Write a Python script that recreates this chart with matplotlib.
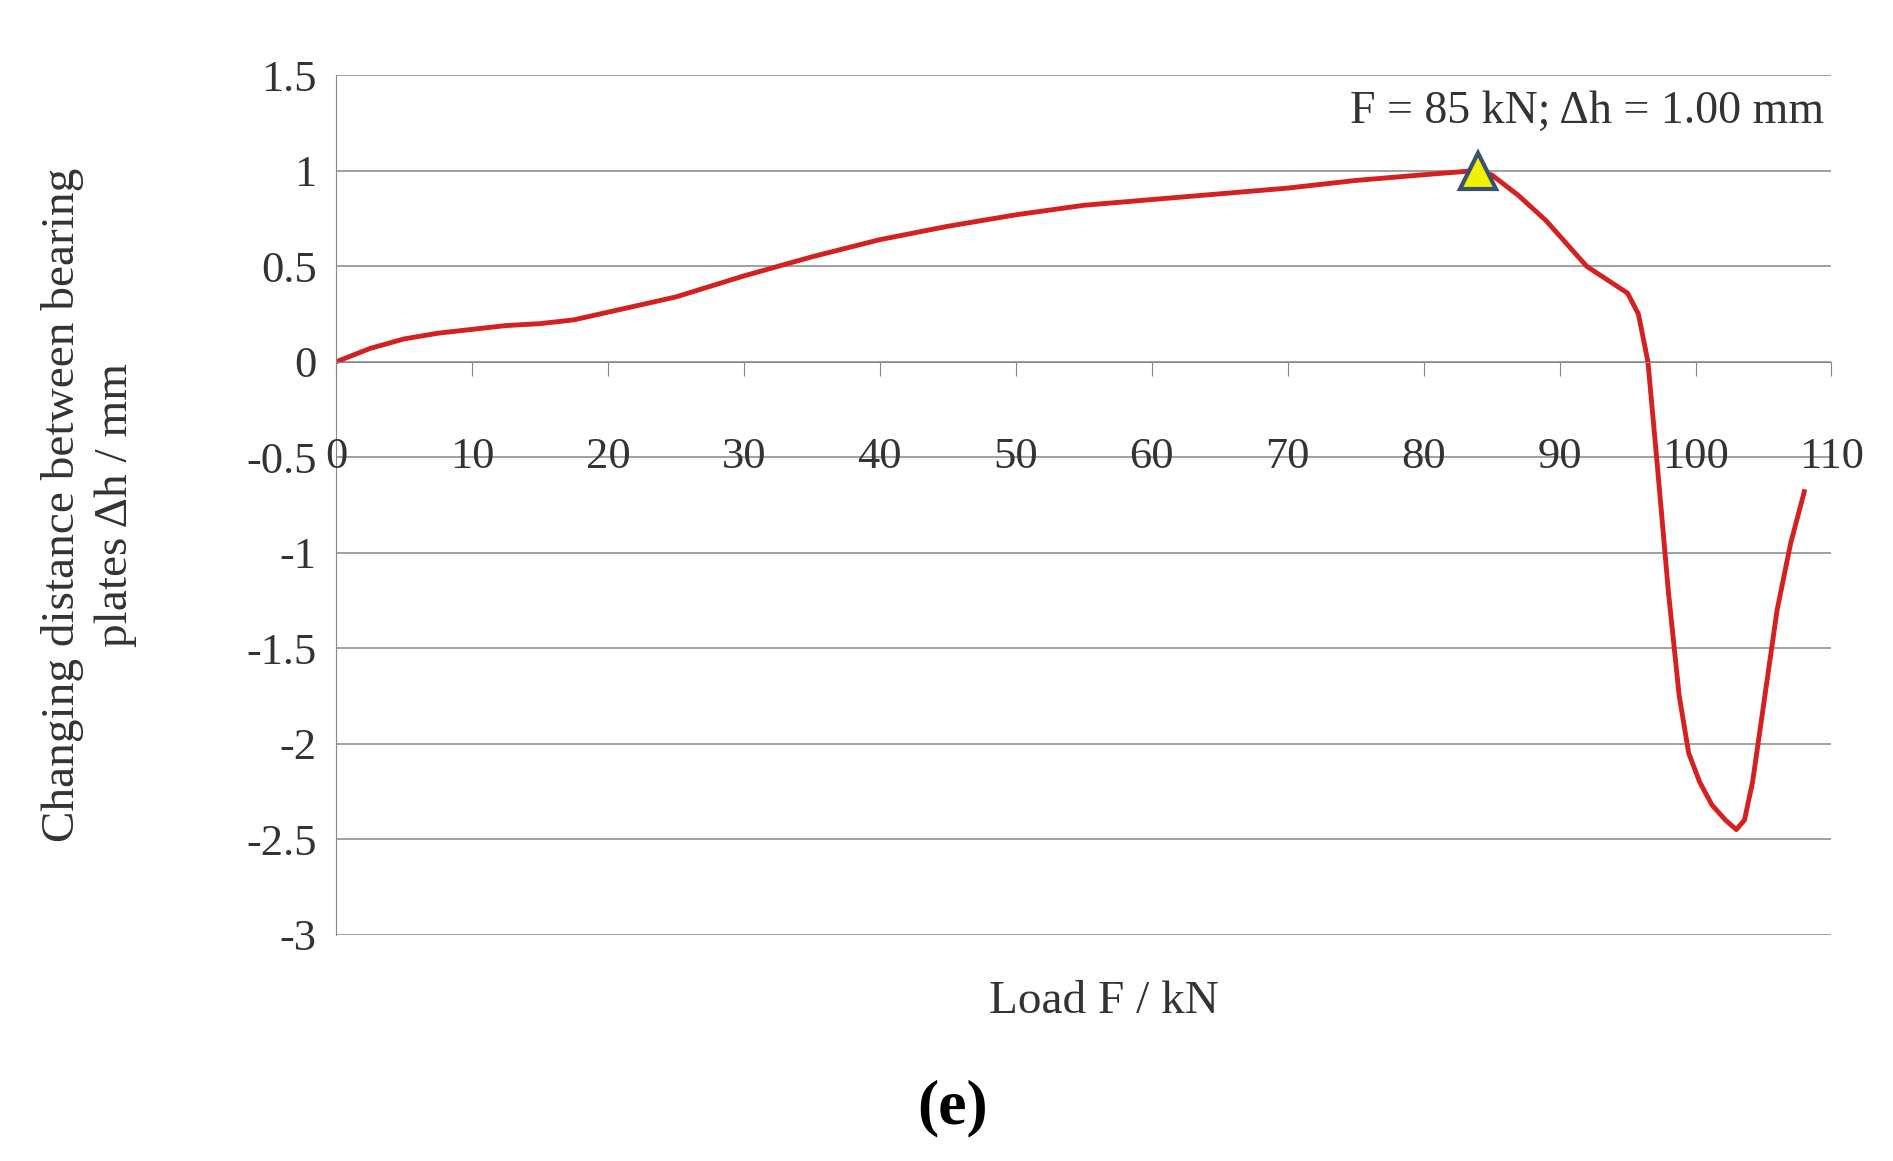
import matplotlib
matplotlib.use("Agg")
import matplotlib.pyplot as plt

load = [0, 2.5, 5, 7.5, 10, 12.5, 15, 17.5, 20, 25, 30, 35, 40, 45, 50, 55, 60, 65, 70, 75, 80, 83.5, 85, 87, 89, 90.5, 92, 93.5, 95, 95.8, 96.5, 97.2, 98, 98.8, 99.5, 100.3, 101.2, 102.2, 103, 103.6, 104.2, 105, 106, 107, 108]
dh = [0, 0.07, 0.12, 0.15, 0.17, 0.19, 0.2, 0.22, 0.26, 0.34, 0.45, 0.55, 0.64, 0.71, 0.77, 0.82, 0.85, 0.88, 0.91, 0.95, 0.98, 1.0, 0.98, 0.87, 0.74, 0.62, 0.5, 0.43, 0.36, 0.25, 0.0, -0.55, -1.2, -1.75, -2.05, -2.2, -2.32, -2.4, -2.45, -2.4, -2.2, -1.8, -1.3, -0.95, -0.68]
peak_x, peak_y = [84], [1.0]
xticks = list(range(0, 111, 10))
yticks = [1.5, 1, 0.5, 0, -0.5, -1, -1.5, -2, -2.5, -3]
ylabels = ["1.5", "1", "0.5", "0", "-0.5", "-1", "-1.5", "-2", "-2.5", "-3"]

plt.rcParams['font.family'] = ['Liberation Serif', 'DejaVu Serif']
fig = plt.figure(figsize=(18.93, 11.61), dpi=100)
ax = fig.add_axes([0.1775, 0.195, 0.79, 0.74])
ax.set_xlim(0, 110)
ax.set_ylim(-3, 1.5)
for s in ['top', 'right']:
    ax.spines[s].set_visible(False)
ax.spines['bottom'].set_position(('data', 0))
ax.spines['bottom'].set_color('#888888')
ax.spines['left'].set_color('#888888')
ax.set_yticks(yticks)
ax.set_yticklabels(ylabels, fontsize=32, color='#333333')
ax.yaxis.grid(True, color='#999999', lw=1.3)
ax.set_axisbelow(True)
ax.tick_params(axis='y', length=0, pad=14)
ax.set_xticks(xticks)
ax.set_xticklabels([])
ax.tick_params(axis='x', direction='out', length=10, color='#888888')
for t in xticks:
    ax.text(t, -0.5, str(t), ha='center', va='center', fontsize=32, color='#333333')
ax.plot(load, dh, color='#d42020', lw=3.5)
ax.plot(peak_x, peak_y, marker='^', ms=26, mfc='#f0f000', mec='#3a5070', mew=3, ls='none')
ax.text(84 + 8, 1.2, "F = 85 kN; Δh = 1.00 mm", ha='center', va='bottom', fontsize=33, color='#333333')
fig.text(0.583, 0.137, "Load F / kN", ha='center', va='center', fontsize=34, color='#333333')
fig.text(0.047, 0.565, "Changing distance between bearing\nplates Δh / mm", ha='center', va='center',
         rotation=90, fontsize=34, color='#333333', linespacing=1.3)
fig.text(0.503, 0.045, "(e)", ha='center', va='center', fontsize=46, fontweight='bold')
fig.savefig("out.png", dpi=100)
